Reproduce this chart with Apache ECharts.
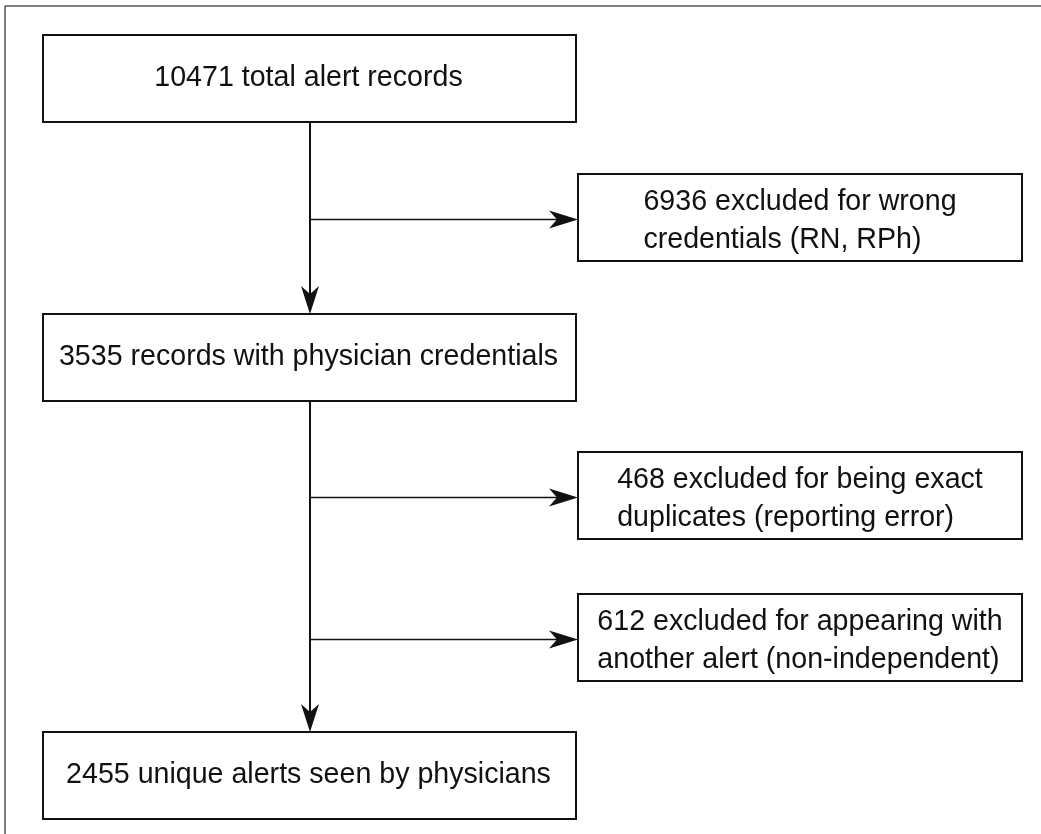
<!DOCTYPE html>
<html>
<head>
<meta charset="utf-8">
<script src="https://cdn.jsdelivr.net/npm/echarts@6/dist/echarts.min.js"></script>
<style>
html,body{margin:0;padding:0;background:#fff;}
#chart{width:1041px;height:834px;}
</style>
</head>
<body>
<div id="chart"></div>
<script>
// ---- Data (flow steps) ----
const mainSteps = [
  '10471 total alert records',
  '3535 records with physician credentials',
  '2455 unique alerts seen by physicians'
];
const exclusionLines = [
  ['6936 excluded for wrong', 'credentials (RN, RPh)'],
  ['468 excluded for being exact', 'duplicates (reporting error)'],
  ['612 excluded for appearing with', 'another alert (non-independent)']
];

// ---- Layout (kept separate from data) ----
const FONT = '28.6px "Liberation Sans", Arial, sans-serif';
const mainBox = { x: 43, w: 533, h: 87, ys: [35, 314, 732] };
const sideBox = { x: 578, w: 444, h: 87, ys: [174, 452, 594] };
const trunkX = 310;
const INK = '#111';

function textWidth(s) {
  const c = document.createElement('canvas').getContext('2d');
  c.font = FONT;
  return c.measureText(s).width;
}

const g = [];
// outer frame (top and left edges)
g.push({ type: 'line', shape: { x1: 5, y1: 6, x2: 1041, y2: 6 }, style: { stroke: '#555', lineWidth: 1.5 } });
g.push({ type: 'line', shape: { x1: 5, y1: 6, x2: 5, y2: 834 }, style: { stroke: '#555', lineWidth: 1.5 } });

function downArrow(x, yTip) {
  return { type: 'polygon', shape: { points: [[x, yTip], [x - 9, yTip - 28], [x, yTip - 20], [x + 9, yTip - 28]] }, style: { fill: INK } };
}
function rightArrow(xTip, y) {
  return { type: 'polygon', shape: { points: [[xTip, y], [xTip - 29, y - 9], [xTip - 21, y], [xTip - 29, y + 9]] }, style: { fill: INK } };
}

// main boxes
mainSteps.forEach((label, i) => {
  const y = mainBox.ys[i];
  g.push({ type: 'rect', shape: { x: mainBox.x, y: y, width: mainBox.w, height: mainBox.h }, style: { fill: '#fff', stroke: INK, lineWidth: 2 } });
  g.push({ type: 'text', x: mainBox.x + mainBox.w / 2 - 1, y: y + mainBox.h / 2, style: { text: label, font: FONT, fill: INK, align: 'center', verticalAlign: 'middle' } });
});

// trunk connectors between main boxes
for (let i = 0; i < mainSteps.length - 1; i++) {
  const y1 = mainBox.ys[i] + mainBox.h;
  const y2 = mainBox.ys[i + 1];
  g.push({ type: 'line', shape: { x1: trunkX, y1: y1, x2: trunkX, y2: y2 - 10 }, style: { stroke: INK, lineWidth: 2 } });
  g.push(downArrow(trunkX, y2));
}

// side (exclusion) boxes and branches
exclusionLines.forEach((lines, i) => {
  const y = sideBox.ys[i];
  const cy = y + sideBox.h / 2 + 2;
  g.push({ type: 'rect', shape: { x: sideBox.x, y: y, width: sideBox.w, height: sideBox.h }, style: { fill: '#fff', stroke: INK, lineWidth: 2 } });
  const wMax = Math.max.apply(null, lines.map(textWidth));
  const tx = sideBox.x + sideBox.w / 2 - wMax / 2;
  g.push({ type: 'text', x: tx, y: cy + 2, style: { text: lines.join('\n'), font: FONT, lineHeight: 38, fill: INK, align: 'left', verticalAlign: 'middle' } });
  g.push({ type: 'line', shape: { x1: trunkX, y1: cy, x2: sideBox.x - 10, y2: cy }, style: { stroke: INK, lineWidth: 1.6 } });
  g.push(rightArrow(sideBox.x, cy));
});

const chart = echarts.init(document.getElementById('chart'), null, { renderer: 'canvas' });
chart.setOption({ backgroundColor: '#fff', animation: false, graphic: g });
</script>
</body>
</html>
